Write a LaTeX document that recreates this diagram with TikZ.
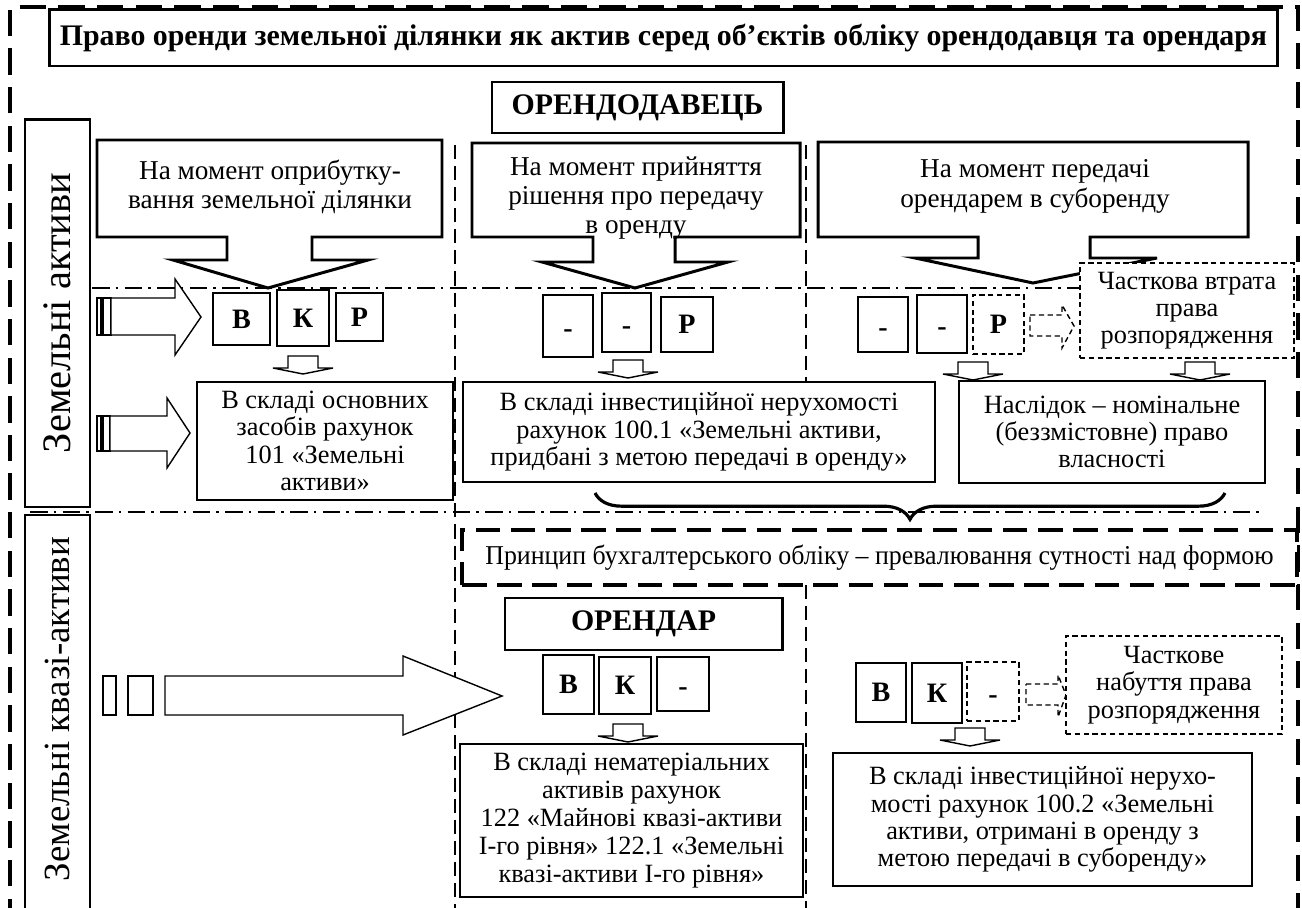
\documentclass[tikz,border=0pt]{standalone}
\usepackage{fontspec}
\setmainfont{Liberation Serif}
\usepackage{graphicx}
\usetikzlibrary{decorations.pathreplacing}
\newcommand\fsz[2]{\fontsize{#1}{#2}\selectfont}
\newcommand\hy{\vphantom{В}\raisebox{-1.5pt}[0pt][0pt]{-}}
\newcommand\dnarrow[2]{%
  \draw[blockarrow] (#1-15,#2) -- (#1+15,#2) -- (#1+15,#2+12) -- (#1+30,#2+12) -- (#1,#2+18) -- (#1-30,#2+12) -- (#1-15,#2+12) -- cycle;}
% box node from corners: style, name, x1, y1, x2, y2, text
\newcommand\bnode[7]{%
  \pgfmathsetmacro\bcx{(#3+#5)/2}\pgfmathsetmacro\bcy{(#4+#6)/2}%
  \pgfmathsetmacro\bw{(#5-#3)*0.02}\pgfmathsetmacro\bh{(#6-#4)*0.02}%
  \node[#1, minimum width=\bw cm, minimum height=\bh cm] (#2) at (\bcx,\bcy) {#7};}
\begin{document}
\begin{tikzpicture}[x=0.02cm,y=-0.02cm,
  thinbox/.style={draw, line width=0.8pt, fill=white, inner sep=0pt, align=center, font=\fsz{15}{15.5}},
  heavybox/.style={draw, line width=1.7pt, fill=white, inner sep=0pt, align=center},
  dashbox/.style={thinbox, dash pattern=on 3pt off 2pt},
  letterbox/.style={thinbox, font=\bfseries\fsz{16}{16}},
  dletterbox/.style={dashbox, font=\bfseries\fsz{16}{16}},
  callout/.style={draw, line width=1.7pt, fill=white, line join=miter},
  blockarrow/.style={draw, line width=0.8pt, fill=white},
  dasharrow/.style={draw, line width=0.8pt, fill=white, dash pattern=on 3pt off 2pt},
  frameline/.style={line width=2.2pt, dash pattern=on 15pt off 7pt},
  sepline/.style={line width=1.1pt, dash pattern=on 8pt off 4pt},
  dashdot/.style={line width=0.9pt, dash pattern=on 10pt off 3.5pt on 1.5pt off 3.5pt},
  sidelabel/.style={rotate=90, font=\fsz{23}{23}, inner sep=0pt},
  calltext/.style={align=center, font=\fsz{15.5}{16.5}, inner sep=0pt},
]
\useasboundingbox (0,0) rectangle (1302,908);

% outer dashed frame
\coordinate (fBL) at (10,925);
\coordinate (fTL) at (10,7);
\coordinate (fTR) at (1298,7);
\coordinate (fBR) at (1298,925);
\draw[frameline] (fBL) -- (fTL) -- (fTR) -- (fBR);

% column separators
\draw[sepline] (455,145) -- (455,915);
\draw[sepline] (806,145) -- (806,382);
\draw[sepline] (806,585) -- (806,915);

% dash-dot horizontal lines
\draw[dashdot] (92,288) -- (1290,288);
\draw[dashdot] (30,512) -- (1265,512);

% title
\bnode{heavybox, font=\bfseries\fsz{17}{20}}{title}{50}{10}{1277}{66}
  {Право оренди земельної ділянки як актив серед об’єктів обліку орендодавця та орендаря}

% side labels
\bnode{heavybox}{lab1}{25}{120}{90}{507}{}
\node[sidelabel] (lab1t) at (57,313) {Земельні активи};
\bnode{heavybox}{lab2}{25}{515}{90}{930}{}
\node[sidelabel, font=\fsz{21}{21}] (lab2t) at (57,709) {Земельні квазі-активи};

% lessor header
\bnode{heavybox, font=\bfseries\fsz{17}{20}}{lessor}{492}{82}{783}{133}{ОРЕНДОДАВЕЦЬ}

% callouts
\draw[callout] (97,140) -- (442,140) -- (442,237) -- (312,237) -- (312,260) -- (368,260) -- (268,288) -- (173,260) -- (227,260) -- (227,237) -- (97,237) -- cycle;
\node[calltext] (c1) at (270,187) {На момент оприбутку-\\вання земельної ділянки};
\draw[callout] (472,143) -- (800,143) -- (800,237) -- (675,237) -- (675,262) -- (728,262) -- (635,288) -- (542,262) -- (593,262) -- (593,237) -- (472,237) -- cycle;
\node[calltext] (c2) at (636,198) {На момент прийняття\\рішення про передачу\\в оренду};
\draw[callout] (818,142) -- (1248,142) -- (1248,237) -- (1090,237) -- (1090,258) -- (1157,258) -- (1033,283) -- (915,258) -- (978,258) -- (978,237) -- (818,237) -- cycle;
\node[calltext, font=\fsz{15.5}{17}] (c3) at (1035,186) {На момент передачі\\орендарем в суборенду};

% left block arrows (upper part)
\draw[blockarrow] (97,298) rectangle (101,335);
\draw[blockarrow] (103,298) rectangle (111,335);
\draw[blockarrow] (111,298) -- (175,298) -- (175,279) -- (201,317) -- (175,355) -- (175,335) -- (111,335) -- cycle;
\draw[blockarrow] (97,416) rectangle (101,451);
\draw[blockarrow] (103,416) rectangle (110,451);
\draw[blockarrow] (110,416) -- (167,416) -- (167,398) -- (190,433) -- (167,468) -- (167,451) -- (110,451) -- cycle;

% column 1 letters
\bnode{letterbox}{v1}{213}{293}{270}{345}{В}
\bnode{letterbox}{k1}{277}{290}{329}{346}{К}
\bnode{letterbox}{r1}{336}{293}{383}{341}{Р}
\dnarrow{303}{356}
\bnode{thinbox}{acc1}{197}{382}{453}{500}{В складі основних\\засобів рахунок\\101 «Земельні\\активи»}

% column 2 letters
\bnode{letterbox}{v2}{543}{295}{593}{357}{\hy}
\bnode{letterbox}{k2}{602}{293}{651}{352}{\hy}
\bnode{letterbox}{r2}{661}{297}{713}{352}{Р}
\dnarrow{628}{360}
\bnode{thinbox}{acc2}{463}{382}{935}{482}{В складі інвестиційної нерухомості\\рахунок 100.1 «Земельні активи,\\придбані з метою передачі в оренду»}

% column 3 letters
\bnode{letterbox}{v3}{858}{297}{908}{352}{\hy}
\bnode{letterbox}{k3}{917}{295}{967}{353}{\hy}
\bnode{dletterbox}{r3}{973}{295}{1024}{354}{Р}
\draw[dasharrow] (1030,315) -- (1062,315) -- (1062,305) -- (1074,326) -- (1062,348) -- (1062,336) -- (1030,336) -- cycle;
\bnode{dashbox}{loss}{1080}{263}{1294}{358}{Часткова втрата\\права\\розпорядження}
\dnarrow{973}{362}
\dnarrow{1200}{362}
\bnode{thinbox}{cons}{959}{381}{1265}{483}{Наслідок – номінальне\\(беззмістовне) право\\власності}

% brace and principle
\coordinate (brR) at (1225,493);
\coordinate (brL) at (595,493);
\draw[line width=1.8pt, decorate, decoration={brace, amplitude=15pt}] (brR) -- (brL);
\bnode{draw, line width=2pt, dash pattern=on 14pt off 6pt, fill=white, inner sep=0pt, font=\fsz{15.5}{16}}{princ}{462}{530}{1297}{585}
  {\scalebox{0.95}[1]{Принцип бухгалтерського обліку – превалювання сутності над формою}}

% lower big arrow
\draw[blockarrow] (103,676) rectangle (116,715);
\draw[blockarrow] (128,676) rectangle (153,715);
\draw[blockarrow] (165,676) -- (403,676) -- (403,656) -- (502,696) -- (403,735) -- (403,715) -- (165,715) -- cycle;

% lessee
\bnode{heavybox, font=\bfseries\fsz{17}{20}}{lessee}{505}{598}{782}{650}{ОРЕНДАР}
\bnode{letterbox}{v4}{543}{655}{594}{714}{В}
\bnode{letterbox}{k4}{599}{657}{651}{714}{К}
\bnode{letterbox}{r4}{657}{657}{709}{711}{\hy}
\dnarrow{628}{724}
\bnode{thinbox, font=\fsz{15}{16}}{acc4}{460}{744}{803}{897}{В складі нематеріальних\\активів рахунок\\122 «Майнові квазі-активи\\І-го рівня» 122.1 «Земельні\\квазі-активи І-го рівня»}

\bnode{letterbox}{v5}{856}{663}{906}{722}{В}
\bnode{letterbox}{k5}{912}{663}{962}{723}{К}
\bnode{dletterbox}{r5}{967}{662}{1019}{721}{\hy}
\draw[dasharrow] (1026,684) -- (1058,684) -- (1058,675) -- (1066,695) -- (1058,717) -- (1058,705) -- (1026,705) -- cycle;
\bnode{dashbox}{gain}{1066}{636}{1282}{734}{Часткове\\набуття права\\розпорядження}
\dnarrow{970}{728}
\bnode{thinbox}{acc5}{833}{753}{1252}{886}{В складі інвестиційної нерухо-\\мості рахунок 100.2 «Земельні\\активи, отримані в оренду з\\метою передачі в суборенду»}
\end{tikzpicture}
\end{document}
